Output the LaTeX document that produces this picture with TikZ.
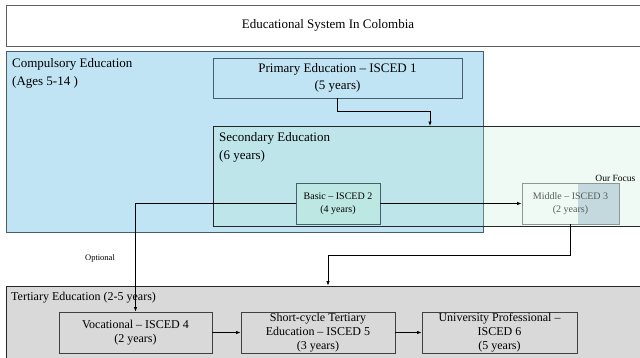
\documentclass[tikz,border=0pt]{standalone}
\usepackage{fontspec}
\setmainfont{Liberation Serif}
\usetikzlibrary{arrows.meta,calc}
\definecolor{compfill}{RGB}{192,228,244}
\definecolor{compdraw}{RGB}{70,95,110}
\definecolor{secfill}{RGB}{187,236,207}
\definecolor{tertfill}{RGB}{217,217,217}
\definecolor{focusfill}{RGB}{196,217,221}
\definecolor{midtext}{RGB}{85,95,90}
\definecolor{middraw}{RGB}{140,152,145}
\definecolor{titledraw}{RGB}{95,95,95}
\begin{document}
\begin{tikzpicture}[x=1pt,y=-1pt,
  box/.style={draw, rectangle, inner sep=0pt, line width=0.9pt, align=center},
  conn/.style={draw=black, line width=0.7pt, -{Latex[length=4.5pt,width=3.5pt]}},
  plain/.style={draw=black, line width=0.7pt},
  fbig/.style={font=\fontsize{13}{18}\selectfont},
  fmid/.style={font=\fontsize{12}{13.8}\selectfont},
  fsmall/.style={font=\fontsize{10}{13}\selectfont},
  lbl/.style={anchor=north west, inner sep=0pt, align=left}]
\useasboundingbox (0,0) rectangle (640,357);
\clip (0,0) rectangle (640,357);

% title
\node[box, draw=titledraw, minimum width=644pt, minimum height=41pt, fbig] (title) at (328,25.5) {Educational System In Colombia};

% compulsory
\node[box, draw=compdraw, fill=compfill, minimum width=477pt, minimum height=181pt] (comp) at (244.5,141.5) {};
\node[lbl, fbig] (complbl) at (12,58) {Compulsory Education\\(Ages 5-14 )};

% primary
\node[box, draw=compdraw, minimum width=249pt, minimum height=40pt, fbig, font=\fontsize{13}{17}\selectfont] (prim) at (337.5,78) {Primary Education -- ISCED 1\\(5 years)};

% secondary
\node[box, draw=black!85, fill=secfill, fill opacity=0.25, minimum width=447pt, minimum height=100pt] (sec) at (436.5,176) {};
\node[lbl, fbig] (seclbl) at (219,132) {Secondary Education\\(6 years)};
\coordinate (secin) at (430,126);

% basic
\node[box, draw=compdraw, fill=secfill, fill opacity=0.25, text opacity=1, minimum width=84pt, minimum height=41pt, fsmall] (basic) at (338,203.5) {Basic -- ISCED 2\\(4 years)};

% middle (our focus)
\fill[focusfill] (578,183) rectangle (619,224);
\node[box, draw=middraw, text=midtext, minimum width=97pt, minimum height=41pt, fsmall] (middle) at (570.5,203.5) {Middle -- ISCED 3\\(2 years)};
\node[anchor=base east, inner sep=0pt, font=\fontsize{9.5}{11}\selectfont] (focuslbl) at (635.5,181) {Our Focus};

% tertiary
\node[box, draw=black!85, fill=tertfill, minimum width=644pt, minimum height=84pt] (tert) at (328,328) {};
\node[lbl, fmid] (tertlbl) at (11,292) {Tertiary Education (2-5 years)};

\node[box, draw=black!75, minimum width=153pt, minimum height=41pt, fmid] (voc) at (135.5,332.5) {Vocational -- ISCED 4\\(2 years)};
\node[box, draw=black!75, minimum width=154pt, minimum height=41pt, fmid] (short) at (318,332.5) {Short-cycle Tertiary\\Education -- ISCED 5\\(3 years)};
\node[box, draw=black!75, minimum width=155pt, minimum height=41pt, fmid] (univ) at (499.5,332.5) {University Professional --\\ISCED 6\\(5 years)};

% connectors
\draw[conn] (prim.south) -- ++(0,13) -| (secin);
\draw[conn] (basic.east) -- (middle.west);
\draw[conn] (basic.west) -| (voc.north);
\node[inner sep=0pt, font=\fontsize{8.5}{10}\selectfont] (optlbl) at (100,258) {Optional};
\draw[conn] (middle.south) -- ++(0,31) -| (tert.north);
\draw[conn] (voc.east) -- (short.west);
\draw[conn] (short.east) -- (univ.west);
\end{tikzpicture}
\end{document}
